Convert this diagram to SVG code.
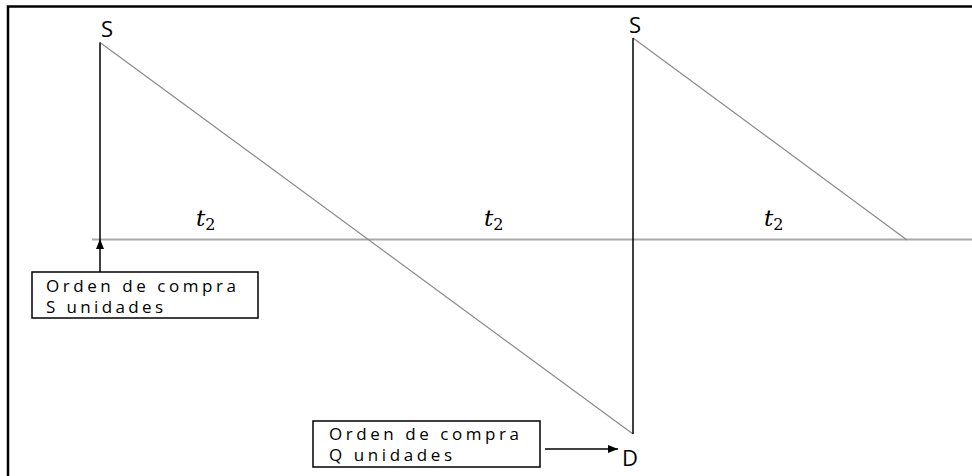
<svg xmlns="http://www.w3.org/2000/svg" width="972" height="476" viewBox="0 0 972 476">
<defs>
<marker id="ah" markerWidth="10" markerHeight="8" refX="10" refY="4" orient="auto" markerUnits="userSpaceOnUse">
<path d="M0,0 L10,4 L0,8 Z" fill="#000"/>
</marker>
</defs>
<style>
.lbl{font-family:"Open Sans","DejaVu Sans",sans-serif;font-size:17px;fill:#000}
.big{font-family:"Open Sans","DejaVu Sans",sans-serif;font-size:22px;fill:#000}
.t{font-family:"DejaVu Serif","Liberation Serif",serif;font-style:italic;font-size:23px;fill:#000}
.sub{font-family:"DejaVu Serif","Liberation Serif",serif;font-style:normal;font-size:16px;fill:#000}
.box{fill:#fff;stroke:#000;stroke-width:1.5}
.axis{stroke:#aaa;stroke-width:2;fill:none}
.diag{stroke:#8a8a8a;stroke-width:1.2;fill:none}
.vert{stroke:#000;stroke-width:1.5;fill:none}
</style>
<rect width="972" height="476" fill="#fff"/>
<g id="frame">
<path d="M8,476 L8,6.5 L972,6.5" fill="none" stroke="#000" stroke-width="2.5"/>
</g>
<g id="connectors">
<line class="axis" x1="92" y1="239.5" x2="972" y2="239.5"/>
<line class="diag" x1="100" y1="42.5" x2="633" y2="434"/>
<line class="diag" x1="633" y1="38" x2="907" y2="240"/>
<line class="vert" x1="633" y1="38" x2="633" y2="434"/>
<line class="vert" x1="100" y1="42.5" x2="100" y2="239"/>
<line class="vert" x1="100" y1="272" x2="100" y2="239" marker-end="url(#ah)"/>
<line class="vert" x1="545" y1="449" x2="618" y2="449" marker-end="url(#ah)" stroke-width="1"/>
</g>
<g id="label-S1"><text class="big" x="101" y="37">S</text></g>
<g id="label-S2"><text class="big" x="629" y="33">S</text></g>
<g id="label-t1"><text class="t" x="196" y="226">t<tspan class="sub" dy="4">2</tspan></text></g>
<g id="label-t2"><text class="t" x="484" y="226">t<tspan class="sub" dy="4">2</tspan></text></g>
<g id="label-t3"><text class="t" x="764" y="226">t<tspan class="sub" dy="4">2</tspan></text></g>
<g id="box-S">
<rect class="box" x="32" y="272" width="226" height="46"/>
<text class="lbl" x="46" y="292" textLength="190" lengthAdjust="spacing">Orden de compra</text>
<text class="lbl" x="46" y="313" textLength="117" lengthAdjust="spacing">S unidades</text>
</g>
<g id="box-Q">
<rect class="box" x="313" y="421" width="227" height="46"/>
<text class="lbl" x="329" y="440" textLength="190" lengthAdjust="spacing">Orden de compra</text>
<text class="lbl" x="329" y="461" textLength="123" lengthAdjust="spacing">Q unidades</text>
</g>
<g id="label-D"><text class="big" x="622" y="466">D</text></g>
</svg>
